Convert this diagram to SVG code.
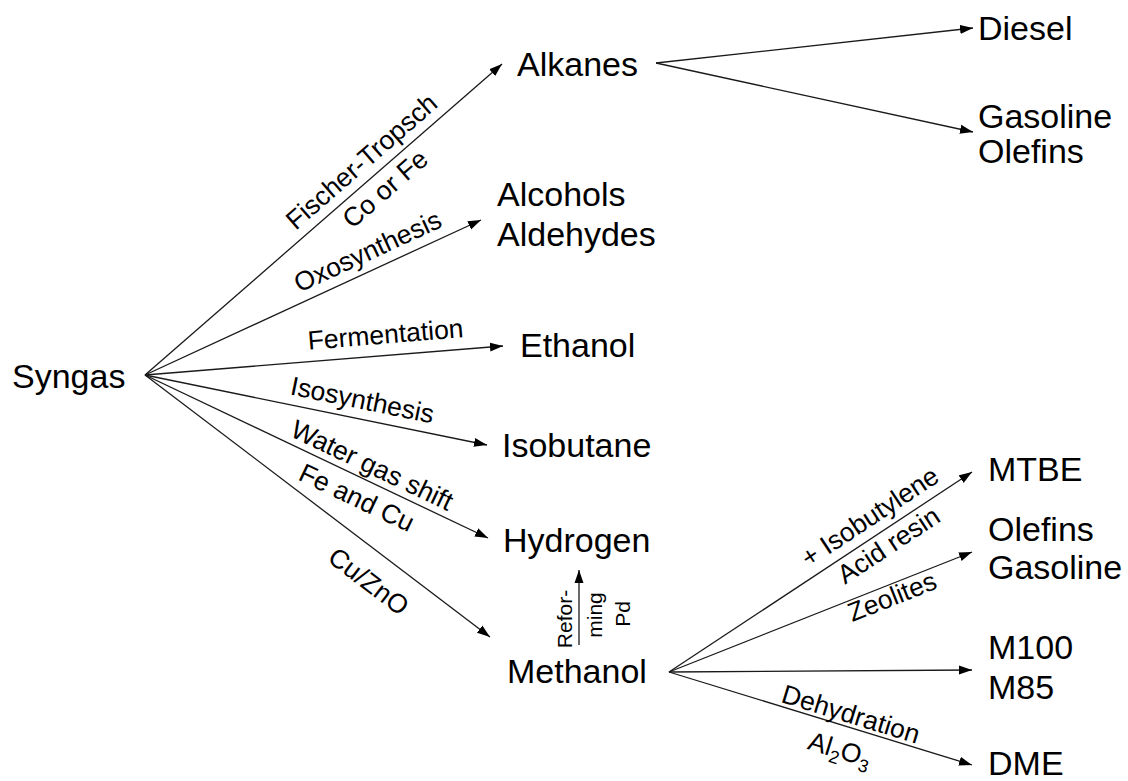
<svg xmlns="http://www.w3.org/2000/svg" width="1128" height="781" viewBox="0 0 1128 781">
<style>
.n{font-family:"Liberation Sans",Arial,sans-serif;font-size:34px;fill:#000}
.l{font-family:"Liberation Sans",Arial,sans-serif;font-size:26.5px;fill:#000;text-anchor:middle}
.r{font-family:"Liberation Sans",Arial,sans-serif;font-size:21px;fill:#000;text-anchor:middle}
.c line{stroke:#1a1a1a;stroke-width:1.3;fill:none;marker-end:url(#ah)}
</style>
<defs>
<marker id="ah" markerUnits="userSpaceOnUse" markerWidth="14" markerHeight="10" viewBox="0 0 14 10" refX="13" refY="5" orient="auto">
<path d="M0,0.5 L13,5 L0,9.5 Z" fill="#000"/>
</marker>
</defs>
<rect width="1128" height="781" fill="#fff"/>
<g id="connectors" class="c">
<line x1="145" y1="375" x2="502" y2="64"/>
<line x1="145" y1="375" x2="481" y2="220"/>
<line x1="145" y1="375" x2="503" y2="346"/>
<line x1="145" y1="375" x2="487" y2="445"/>
<line x1="145" y1="375" x2="488" y2="538"/>
<line x1="145" y1="375" x2="490" y2="637"/>
<line x1="656" y1="63" x2="973" y2="28"/>
<line x1="656" y1="63" x2="973" y2="132"/>
<line x1="669" y1="672" x2="972" y2="472"/>
<line x1="669" y1="672" x2="972" y2="552"/>
<line x1="669" y1="672" x2="972" y2="670"/>
<line x1="669" y1="672" x2="972" y2="765"/>
<line x1="579" y1="645" x2="579" y2="570"/>
</g>
<g id="edge-labels">
<g transform="translate(374,176) rotate(-41.06)"><text class="l" y="-10">Fischer-Tropsch</text><text class="l" y="26">Co or Fe</text></g>
<g transform="translate(375.6,268.6) rotate(-24.77)"><text class="l" y="-10">Oxosynthesis</text></g>
<g transform="translate(387.2,355.4) rotate(-4.63)"><text class="l" y="-12">Fermentation</text></g>
<g transform="translate(358.6,418.7) rotate(11.57)"><text class="l" y="-10">Isosynthesis</text></g>
<g transform="translate(365.3,479.7) rotate(25.42)"><text class="l" y="-7">Water gas shift</text><text class="l" y="29">Fe and Cu</text></g>
<g transform="translate(386.2,558.3) rotate(37.22)"><text class="l" y="38">Cu/ZnO</text></g>
<g transform="translate(880.3,532.6) rotate(-33.43)"><text class="l" y="-10">+ Isobutylene</text><text class="l" y="24">Acid resin</text></g>
<g transform="translate(887.6,585.5) rotate(-21.6)"><text class="l" y="21">Zeolites</text></g>
<g transform="translate(847,726.6) rotate(17.06)"><text class="l" y="-4">Dehydration</text><text class="l" y="33">Al<tspan font-size="18" dy="6">2</tspan><tspan dy="-6">O</tspan><tspan font-size="18" dy="6">3</tspan></text></g>
<text class="r" transform="translate(571.5,619) rotate(-90)">Refor-</text>
<text class="r" transform="translate(602,615) rotate(-90)">ming</text>
<text class="r" transform="translate(630,614) rotate(-90)">Pd</text>
</g>
<g id="syngas"><text class="n" x="12" y="388">Syngas</text></g>
<g id="alkanes"><text class="n" x="517" y="76">Alkanes</text></g>
<g id="alcohols"><text class="n" x="497" y="206">Alcohols</text><text class="n" x="497" y="246">Aldehydes</text></g>
<g id="ethanol"><text class="n" x="520" y="357">Ethanol</text></g>
<g id="isobutane"><text class="n" x="502" y="457">Isobutane</text></g>
<g id="hydrogen"><text class="n" x="503" y="552">Hydrogen</text></g>
<g id="methanol"><text class="n" x="507" y="683">Methanol</text></g>
<g id="diesel"><text class="n" x="978" y="40">Diesel</text></g>
<g id="gasoline-olefins"><text class="n" x="978" y="128">Gasoline</text><text class="n" x="978" y="163">Olefins</text></g>
<g id="mtbe"><text class="n" x="988" y="481">MTBE</text></g>
<g id="olefins-gasoline"><text class="n" x="988" y="541">Olefins</text><text class="n" x="988" y="579">Gasoline</text></g>
<g id="m100-m85"><text class="n" x="988" y="659">M100</text><text class="n" x="988" y="699">M85</text></g>
<g id="dme"><text class="n" x="988" y="775">DME</text></g>
</svg>
